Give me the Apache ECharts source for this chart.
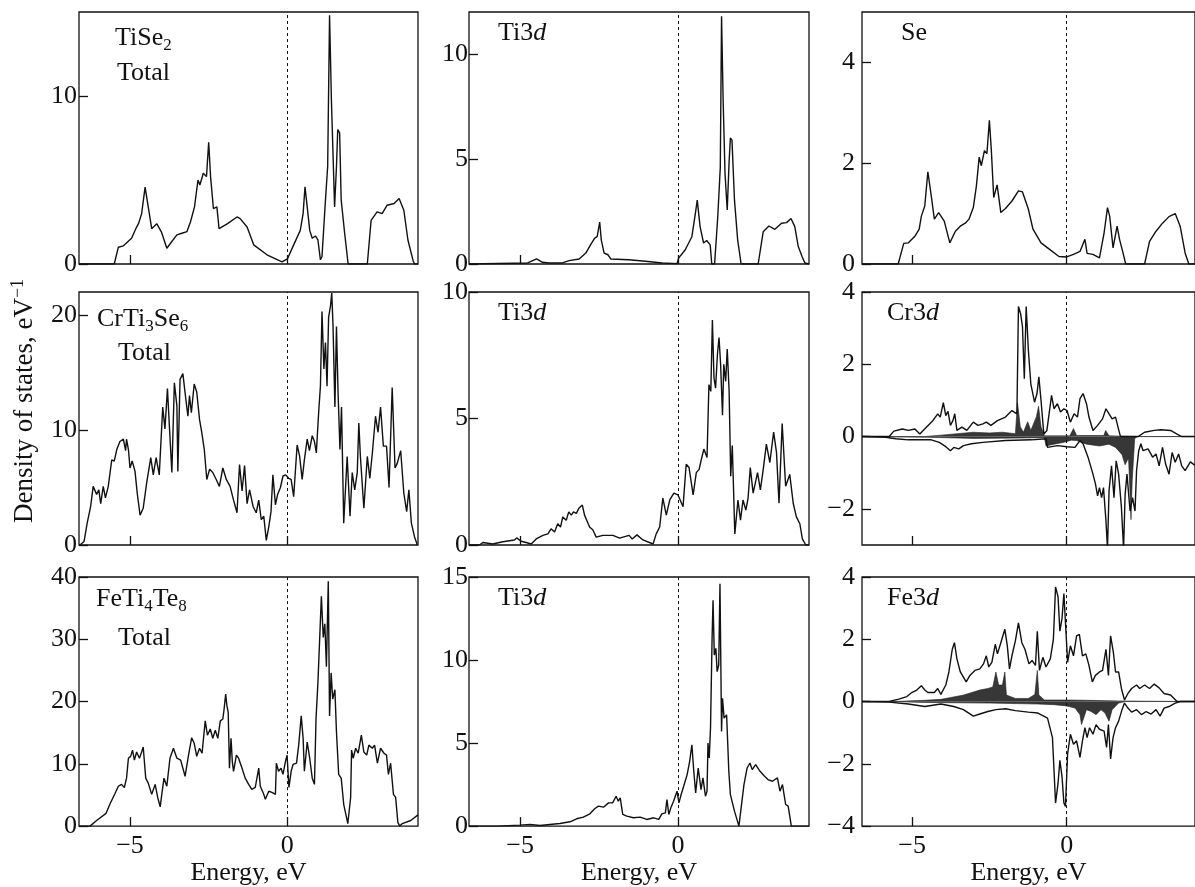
<!DOCTYPE html>
<html>
<head>
<meta charset="utf-8" />
<title>Density of states</title>
<script src="https://cdn.jsdelivr.net/npm/echarts@6/dist/echarts.min.js"></script>
</head>
<body>
<style>
  html, body { margin: 0; background: #fff; }
  #main { width: 1195px; height: 887px; }
</style>
<div id="main"></div>
<script type="text/javascript">
// energy range shared by all panels (eV)
var eMin = -6.62, eMax = 4.15;

// --- TiSe2 ---
var tise2Total = [[-6.62,0],[-5.50,0],[-5.37,1.0],[-5.21,1.08],[-4.95,1.53],[-4.79,2.2],[-4.73,2.4],[-4.63,3.0],[-4.52,4.58],[-4.42,3.4],[-4.31,2.1],[-4.15,2.4],[-4.0,1.9],[-3.83,0.94],[-3.67,1.34],[-3.51,1.73],[-3.35,1.83],[-3.19,1.93],[-3.08,2.5],[-2.95,3.4],[-2.84,5.0],[-2.78,4.7],[-2.67,5.4],[-2.57,5.2],[-2.50,7.25],[-2.44,5.2],[-2.35,3.3],[-2.24,3.4],[-2.17,2.1],[-1.90,2.4],[-1.60,2.8],[-1.50,2.7],[-1.28,2.2],[-1.07,1.14],[-0.65,0.55],[-0.17,0.12],[0.0,0.3],[0.2,1.14],[0.41,2.0],[0.50,3.0],[0.56,4.6],[0.63,3.4],[0.71,2.0],[0.79,1.53],[0.89,1.67],[0.97,1.43],[1.05,0.25],[1.10,0.45],[1.21,3.8],[1.28,5.8],[1.34,14.8],[1.40,9.7],[1.50,3.4],[1.56,5.8],[1.60,8.0],[1.66,7.8],[1.71,3.8],[1.82,1.83],[1.93,0],[2.54,0],[2.66,2.6],[2.85,3.1],[3.01,3.0],[3.17,3.5],[3.39,3.6],[3.55,3.9],[3.70,3.2],[3.83,1.43],[4.0,0.16],[4.04,0],[4.15,0]];
var tise2Ti3d = [[-6.62,0],[-4.76,0.05],[-4.48,0.24],[-4.29,0.08],[-4.08,0.05],[-3.66,0.05],[-3.45,0.16],[-3.13,0.24],[-2.92,0.52],[-2.77,0.91],[-2.64,1.23],[-2.56,1.3],[-2.48,2.0],[-2.43,1.15],[-2.34,0.52],[-2.22,0.44],[-2.13,0.24],[-1.56,0.2],[-1.03,0.13],[-0.5,0.05],[-0.03,0.02],[0.02,0.28],[0.23,0.68],[0.44,1.3],[0.55,2.4],[0.61,3.04],[0.70,1.78],[0.81,1.0],[0.91,1.12],[1.02,0.91],[1.07,0],[1.16,0],[1.26,2.25],[1.34,4.6],[1.38,11.8],[1.43,7.8],[1.49,4.3],[1.56,2.57],[1.62,4.9],[1.66,6.0],[1.71,5.9],[1.79,3.04],[1.89,1.15],[2.0,0],[2.54,0],[2.70,1.54],[2.88,1.81],[3.07,1.65],[3.28,1.94],[3.44,1.97],[3.58,2.17],[3.70,1.78],[3.81,0.83],[3.93,0.36],[4.02,0.05],[4.15,0]];
var tise2Se = [[-6.62,0],[-5.45,0],[-5.27,0.41],[-5.12,0.42],[-4.91,0.55],[-4.77,0.69],[-4.70,0.95],[-4.59,1.15],[-4.49,1.83],[-4.38,1.35],[-4.28,0.89],[-4.14,1.02],[-3.96,0.85],[-3.78,0.42],[-3.60,0.65],[-3.44,0.75],[-3.28,0.81],[-3.16,0.89],[-3.02,1.12],[-2.92,1.55],[-2.83,2.12],[-2.76,1.95],[-2.66,2.25],[-2.58,2.19],[-2.50,2.85],[-2.44,2.29],[-2.36,1.32],[-2.32,1.29],[-2.25,1.57],[-2.13,1.02],[-1.98,1.1],[-1.77,1.25],[-1.56,1.45],[-1.43,1.43],[-1.24,1.09],[-1.09,0.69],[-0.83,0.42],[-0.51,0.27],[-0.25,0.15],[0.0,0.14],[0.22,0.19],[0.43,0.25],[0.59,0.49],[0.66,0.21],[0.85,0.19],[1.06,0.12],[1.21,0.62],[1.32,1.12],[1.39,0.95],[1.50,0.32],[1.63,0.75],[1.71,0.49],[1.81,0.25],[1.91,0],[2.52,0],[2.68,0.45],[2.89,0.65],[3.10,0.81],[3.31,0.94],[3.51,1.0],[3.67,0.75],[3.83,0.22],[3.95,0],[4.15,0]];

// --- CrTi3Se6 ---
var crTotal = [[-6.59,0],[-6.46,0.3],[-6.36,1.9],[-6.25,3.35],[-6.17,5.1],[-6.06,4.4],[-5.99,4.8],[-5.93,3.6],[-5.85,5.1],[-5.78,4.1],[-5.69,5.1],[-5.58,7.4],[-5.50,7.3],[-5.42,8.3],[-5.32,9.0],[-5.21,9.2],[-5.14,8.2],[-5.11,9.2],[-5.05,8.3],[-5.0,6.7],[-4.93,7.3],[-4.84,6.4],[-4.77,4.5],[-4.68,2.6],[-4.58,3.2],[-4.47,5.4],[-4.34,7.6],[-4.26,6.1],[-4.17,7.6],[-4.07,6.1],[-3.96,12.0],[-3.89,10.1],[-3.81,13.6],[-3.75,10.4],[-3.67,6.3],[-3.59,14.1],[-3.51,12.1],[-3.48,6.4],[-3.41,14.4],[-3.32,14.9],[-3.24,13.0],[-3.16,11.2],[-3.11,13.0],[-3.05,11.5],[-2.96,14.0],[-2.88,13.3],[-2.79,10.9],[-2.72,9.8],[-2.64,8.3],[-2.56,5.7],[-2.47,6.6],[-2.37,6.3],[-2.26,5.7],[-2.16,5.1],[-2.05,6.7],[-1.94,5.7],[-1.82,5.1],[-1.71,3.9],[-1.60,2.8],[-1.52,7.0],[-1.44,4.7],[-1.36,6.9],[-1.28,3.6],[-1.20,4.8],[-1.09,3.35],[-0.99,2.8],[-0.91,3.9],[-0.83,2.2],[-0.75,2.5],[-0.67,0.4],[-0.59,1.6],[-0.52,2.9],[-0.46,6.1],[-0.38,3.5],[-0.31,4.4],[-0.22,5.0],[-0.14,6.0],[-0.05,6.1],[0.04,5.8],[0.12,5.7],[0.20,4.2],[0.31,8.7],[0.39,7.7],[0.47,5.7],[0.54,7.4],[0.63,9.2],[0.70,8.2],[0.79,9.5],[0.86,9.0],[0.92,8.0],[1.0,11.8],[1.05,13.8],[1.10,20.3],[1.16,15.3],[1.21,17.6],[1.26,13.8],[1.31,19.8],[1.37,20.8],[1.41,21.9],[1.45,19.1],[1.51,12.0],[1.56,19.0],[1.61,13.3],[1.67,8.3],[1.72,12.0],[1.79,1.9],[1.90,7.7],[1.99,2.5],[2.06,6.3],[2.14,4.8],[2.22,6.3],[2.27,10.6],[2.32,7.7],[2.43,3.2],[2.54,7.7],[2.62,5.8],[2.70,8.0],[2.80,11.2],[2.88,9.8],[2.96,12.0],[3.05,8.6],[3.15,8.6],[3.23,5.0],[3.33,13.7],[3.42,6.7],[3.49,7.1],[3.60,8.2],[3.70,4.5],[3.79,2.9],[3.86,4.8],[3.94,1.9],[4.04,0.7],[4.13,0]];
var crTi3d = [[-6.62,0],[-6.29,0],[-6.18,0.1],[-5.87,0.04],[-5.55,0.13],[-5.18,0.2],[-5.11,0.28],[-4.97,0.15],[-4.81,0.1],[-4.65,0.04],[-4.49,0.24],[-4.28,0.38],[-4.12,0.44],[-4.02,0.64],[-3.91,0.51],[-3.81,0.84],[-3.72,0.71],[-3.65,1.11],[-3.54,0.98],[-3.46,1.31],[-3.38,1.18],[-3.31,1.31],[-3.22,1.25],[-3.14,1.45],[-3.03,1.58],[-2.96,1.18],[-2.80,0.71],[-2.70,0.6],[-2.59,0.31],[-2.38,0.38],[-2.06,0.38],[-1.85,0.27],[-1.55,0.38],[-1.45,0.24],[-1.30,0.4],[-1.11,0.2],[-0.79,0.04],[-0.69,0.44],[-0.58,0.71],[-0.48,1.85],[-0.37,1.18],[-0.26,1.78],[-0.13,2.05],[0.0,1.98],[0.16,1.51],[0.26,3.19],[0.35,3.06],[0.48,1.98],[0.58,2.86],[0.67,2.99],[0.74,3.39],[0.82,3.79],[0.92,3.46],[0.98,6.34],[1.04,6.07],[1.09,8.89],[1.14,6.61],[1.19,6.2],[1.25,7.55],[1.30,8.2],[1.35,7.14],[1.41,5.13],[1.45,7.14],[1.51,6.47],[1.56,7.75],[1.62,6.07],[1.67,2.72],[1.72,3.93],[1.80,0.44],[1.90,1.78],[1.98,0.98],[2.06,1.78],[2.15,1.38],[2.22,1.85],[2.29,3.06],[2.38,2.05],[2.52,2.86],[2.61,2.18],[2.70,2.99],[2.80,3.99],[2.91,3.26],[3.03,4.46],[3.12,3.66],[3.20,1.65],[3.30,4.8],[3.41,2.32],[3.54,2.79],[3.65,1.65],[3.75,1.11],[3.86,0.84],[3.94,0.24],[4.05,0],[4.15,0]];
var crCr3dUp = [[-6.62,0],[-5.74,0],[-5.59,0.15],[-5.32,0.21],[-5.12,0.17],[-4.91,0.21],[-4.75,0.07],[-4.54,0.26],[-4.33,0.44],[-4.17,0.63],[-4.09,0.54],[-3.99,0.94],[-3.91,0.58],[-3.84,0.7],[-3.76,0.31],[-3.68,0.44],[-3.62,0.63],[-3.55,0.17],[-3.39,0.26],[-3.23,0.17],[-3.02,0.4],[-2.87,0.31],[-2.71,0.35],[-2.60,0.4],[-2.45,0.31],[-2.24,0.44],[-1.98,0.54],[-1.77,0.72],[-1.61,0.63],[-1.56,3.6],[-1.49,3.4],[-1.43,3.04],[-1.37,1.6],[-1.31,3.6],[-1.24,2.4],[-1.16,1.46],[-1.04,0.95],[-0.96,1.19],[-0.90,1.65],[-0.83,1.0],[-0.74,0.07],[-0.64,0.17],[-0.49,1.14],[-0.41,0.77],[-0.30,0.91],[-0.20,0.68],[-0.09,0.77],[0.01,0.72],[0.12,0.4],[0.24,0.63],[0.35,0.54],[0.43,1.05],[0.53,1.19],[0.64,0.91],[0.72,0.54],[0.85,0.17],[1.0,0.31],[1.16,0.49],[1.27,0.77],[1.37,0.63],[1.47,0.49],[1.58,0.54],[1.66,0.26],[1.74,0],[2.31,0],[2.52,0.12],[2.83,0.17],[3.04,0.19],[3.36,0.17],[3.57,0.07],[3.72,0],[4.15,0]];
var crCr3dDn = [[-6.62,0],[-5.85,-0.02],[-5.53,-0.06],[-5.12,-0.09],[-4.70,-0.09],[-4.38,-0.09],[-4.12,-0.16],[-3.91,-0.28],[-3.76,-0.39],[-3.65,-0.3],[-3.49,-0.34],[-3.34,-0.25],[-3.08,-0.2],[-2.71,-0.16],[-1.98,-0.11],[-1.14,-0.09],[-0.67,-0.06],[-0.62,-0.3],[-0.30,-0.25],[0.01,-0.28],[0.27,-0.3],[0.43,-0.11],[0.53,-0.2],[0.69,-0.57],[0.85,-1.04],[0.93,-1.31],[1.0,-1.64],[1.06,-1.41],[1.13,-1.69],[1.19,-1.41],[1.27,-2.33],[1.32,-3.1],[1.37,-1.5],[1.45,-0.81],[1.53,-1.69],[1.60,-0.67],[1.68,-1.04],[1.77,-1.96],[1.84,-3.1],[1.89,-1.6],[1.95,-1.04],[2.05,-2.06],[2.13,-1.69],[2.21,-2.06],[2.26,-0.94],[2.33,-0.39],[2.40,-0.2],[2.47,-0.39],[2.63,-0.34],[2.78,-0.57],[2.89,-0.48],[2.99,-0.81],[3.10,-0.3],[3.20,-0.76],[3.31,-1.04],[3.41,-0.44],[3.51,-0.71],[3.62,-0.48],[3.72,-0.81],[3.83,-0.94],[4.0,-0.7],[4.15,-0.8]];
var crCr3dShUp = [[-6.62,0],[-4.6,0],[-4.06,0.04],[-3.54,0.08],[-3.02,0.12],[-2.5,0.1],[-2.08,0.12],[-1.66,0.08],[-1.59,0.93],[-1.5,0.27],[-1.4,0.12],[-1.26,0.41],[-1.16,0.17],[-0.98,0.55],[-0.91,0.84],[-0.83,0.27],[-0.72,0.02],[0.1,0.02],[0.22,0.22],[0.32,0.03],[1.2,0.03],[1.26,0.17],[1.37,0.02],[2.2,0],[4.15,0]];
var crCr3dShDn = [[-6.62,0],[-4.5,-0.02],[-3.0,-0.05],[-1.5,-0.04],[-0.72,-0.03],[-0.67,-0.26],[-0.41,-0.21],[-0.09,-0.16],[0.15,-0.1],[0.32,-0.11],[0.64,-0.21],[1.06,-0.26],[1.37,-0.21],[1.58,-0.3],[1.79,-0.5],[1.89,-0.78],[2.0,-0.59],[2.05,-1.6],[2.08,-2.3],[2.12,-1.2],[2.15,-1.16],[2.2,-0.05],[2.3,0],[4.15,0]];

// --- FeTi4Te8 ---
var feTotal = [[-6.62,0],[-6.27,0],[-6.06,0.9],[-5.76,2.05],[-5.64,3.5],[-5.48,5.2],[-5.37,6.4],[-5.27,6.7],[-5.18,6.2],[-5.11,7.7],[-5.05,10.9],[-4.98,11.2],[-4.92,12.2],[-4.86,10.6],[-4.79,11.9],[-4.70,10.9],[-4.63,11.9],[-4.58,12.7],[-4.50,7.7],[-4.42,6.9],[-4.31,5.1],[-4.20,6.7],[-4.12,4.6],[-4.04,3.1],[-3.99,5.1],[-3.92,7.7],[-3.83,6.4],[-3.73,10.9],[-3.62,12.5],[-3.51,10.9],[-3.39,10.6],[-3.25,8.0],[-3.14,11.4],[-3.04,14.2],[-2.96,13.3],[-2.88,11.2],[-2.79,12.5],[-2.71,11.7],[-2.61,16.9],[-2.54,14.6],[-2.45,15.6],[-2.37,14.1],[-2.29,15.4],[-2.21,14.1],[-2.13,16.9],[-2.05,17.2],[-2.01,18.8],[-1.96,21.2],[-1.92,19.3],[-1.88,18.3],[-1.84,9.3],[-1.79,14.1],[-1.75,10.4],[-1.71,8.8],[-1.62,11.4],[-1.55,10.9],[-1.44,9.3],[-1.34,7.7],[-1.23,6.7],[-1.13,5.9],[-1.02,6.2],[-0.91,9.3],[-0.86,6.4],[-0.75,5.1],[-0.70,4.3],[-0.59,5.6],[-0.49,5.4],[-0.38,5.1],[-0.35,10.1],[-0.28,8.8],[-0.20,9.3],[-0.14,8.3],[-0.06,10.4],[-0.01,11.4],[0.05,6.2],[0.12,8.8],[0.18,9.9],[0.29,10.1],[0.36,13.0],[0.44,17.7],[0.50,14.1],[0.54,8.8],[0.63,13.5],[0.71,10.9],[0.79,7.7],[0.86,6.7],[0.91,17.2],[0.97,23.0],[1.02,29.3],[1.08,36.9],[1.14,30.3],[1.19,32.5],[1.24,25.6],[1.30,39.3],[1.34,17.7],[1.39,24.6],[1.44,20.4],[1.51,21.9],[1.56,15.1],[1.63,8.3],[1.71,7.7],[1.79,3.5],[1.92,0.4],[2.01,4.6],[2.04,12.2],[2.09,10.9],[2.17,12.5],[2.25,11.7],[2.35,14.6],[2.43,11.9],[2.52,11.4],[2.59,13.0],[2.70,12.5],[2.77,13.0],[2.86,10.1],[2.96,12.5],[3.07,11.7],[3.15,11.4],[3.21,8.3],[3.28,10.1],[3.37,5.1],[3.44,4.6],[3.51,0.6],[3.57,0],[3.65,0.4],[3.92,0.9],[4.15,1.8]];
var feTi3d = [[-6.62,0],[-5.70,0],[-5.01,0.06],[-4.69,0.1],[-4.37,0.04],[-4.06,0.1],[-3.74,0.16],[-3.42,0.26],[-3.21,0.44],[-3.0,0.54],[-2.79,0.74],[-2.63,1.06],[-2.52,1.2],[-2.36,1.14],[-2.20,1.4],[-2.07,1.4],[-1.96,1.8],[-1.89,1.5],[-1.83,1.7],[-1.75,0.7],[-1.62,0.6],[-1.41,0.5],[-1.20,0.54],[-0.99,0.4],[-0.77,0.5],[-0.61,0.4],[-0.51,0.74],[-0.40,0.8],[-0.35,1.6],[-0.29,0.7],[-0.22,1.14],[-0.14,1.5],[-0.03,2.1],[0.03,1.4],[0.10,1.9],[0.18,2.4],[0.29,3.1],[0.37,3.9],[0.44,4.9],[0.50,3.3],[0.56,2.0],[0.64,3.5],[0.73,2.2],[0.79,2.9],[0.87,1.8],[0.92,2.1],[0.95,5.0],[0.99,4.1],[1.03,5.9],[1.08,11.3],[1.11,13.6],[1.15,10.3],[1.20,10.7],[1.24,9.3],[1.29,9.7],[1.33,14.6],[1.38,5.7],[1.41,7.7],[1.46,6.5],[1.54,6.7],[1.61,3.3],[1.66,1.9],[1.72,2.0],[1.79,0.9],[1.93,0],[1.98,0],[2.09,2.5],[2.19,3.5],[2.28,3.8],[2.35,3.4],[2.46,3.7],[2.60,3.3],[2.72,3.05],[2.85,2.8],[2.99,2.7],[3.15,2.9],[3.23,2.1],[3.31,2.5],[3.41,1.3],[3.49,1.2],[3.59,0],[4.15,0]];
var feFe3dUp = [[-6.62,0],[-5.74,0],[-5.43,0.08],[-5.17,0.16],[-5.01,0.29],[-4.85,0.37],[-4.70,0.51],[-4.59,0.37],[-4.49,0.29],[-4.28,0.29],[-4.17,0.42],[-4.07,0.23],[-3.91,0.53],[-3.81,0.95],[-3.70,1.68],[-3.63,1.89],[-3.55,1.37],[-3.44,0.95],[-3.25,0.63],[-3.13,0.84],[-2.97,1.0],[-2.81,1.05],[-2.69,1.21],[-2.60,1.47],[-2.52,1.11],[-2.42,1.26],[-2.31,1.84],[-2.24,1.53],[-2.13,1.89],[-2.00,2.32],[-1.92,1.79],[-1.85,1.05],[-1.77,1.47],[-1.66,1.95],[-1.56,2.53],[-1.45,1.89],[-1.35,1.68],[-1.22,1.21],[-1.12,1.32],[-1.01,1.16],[-0.95,2.26],[-0.88,1.0],[-0.77,1.42],[-0.67,1.11],[-0.53,1.37],[-0.43,2.0],[-0.36,3.68],[-0.28,3.37],[-0.22,2.26],[-0.15,2.68],[-0.09,3.47],[-0.03,3.53],[0.03,1.26],[0.12,1.79],[0.22,1.47],[0.32,2.11],[0.41,2.16],[0.51,1.47],[0.62,1.53],[0.72,1.16],[0.83,0.63],[0.93,0.84],[1.06,0.95],[1.16,1.0],[1.27,1.68],[1.35,0.84],[1.42,2.11],[1.51,1.58],[1.58,0.95],[1.68,0.95],[1.77,0.42],[1.87,0.05],[1.98,0.26],[2.10,0.42],[2.26,0.53],[2.36,0.42],[2.52,0.53],[2.68,0.42],[2.83,0.56],[2.99,0.44],[3.15,0.26],[3.36,0.21],[3.57,0],[4.15,0]];
var feFe3dDn = [[-6.62,0],[-5.74,-0.02],[-5.12,-0.08],[-4.59,-0.16],[-4.07,-0.08],[-3.65,-0.16],[-3.34,-0.26],[-3.02,-0.47],[-2.81,-0.4],[-2.55,-0.32],[-2.29,-0.26],[-1.98,-0.23],[-1.66,-0.29],[-1.24,-0.34],[-0.93,-0.37],[-0.62,-0.53],[-0.46,-1.16],[-0.41,-2.21],[-0.36,-3.26],[-0.28,-2.63],[-0.22,-1.89],[-0.15,-2.42],[-0.09,-3.26],[-0.04,-3.37],[0.03,-1.68],[0.12,-1.05],[0.22,-1.37],[0.32,-1.26],[0.43,-1.79],[0.51,-1.26],[0.59,-0.84],[0.66,-1.16],[0.74,-0.84],[0.85,-1.05],[0.95,-0.74],[1.06,-0.89],[1.21,-0.95],[1.29,-1.47],[1.35,-0.74],[1.42,-1.84],[1.50,-1.16],[1.58,-0.84],[1.68,-0.63],[1.79,-0.26],[1.87,-0.05],[1.98,-0.21],[2.10,-0.34],[2.26,-0.26],[2.42,-0.42],[2.57,-0.32],[2.73,-0.4],[2.89,-0.26],[3.02,-0.47],[3.15,-0.21],[3.31,-0.16],[3.51,-0.05],[3.67,0],[4.15,0]];
var feFe3dShUp = [[-6.62,0],[-5.63,0],[-4.59,0.04],[-4.06,0.07],[-3.75,0.13],[-3.33,0.21],[-3.07,0.29],[-2.81,0.37],[-2.55,0.42],[-2.39,0.47],[-2.29,0.95],[-2.20,0.53],[-2.08,0.53],[-2.0,0.95],[-1.95,0.21],[-1.66,0.1],[-1.24,0.1],[-1.03,0.23],[-0.95,1.0],[-0.90,0.21],[-0.72,0.05],[0.0,0.05],[0.64,0.04],[1.68,0.02],[2.73,0.01],[4.15,0]];
var feFe3dShDn = [[-6.62,0],[-5.63,0],[-4.59,-0.03],[-2.50,-0.05],[-0.93,-0.08],[-0.41,-0.1],[0.0,-0.14],[0.27,-0.21],[0.43,-0.42],[0.48,-0.74],[0.55,-0.53],[0.64,-0.26],[0.79,-0.32],[0.95,-0.42],[1.11,-0.26],[1.24,-0.37],[1.37,-0.63],[1.47,-0.26],[1.68,-0.05],[1.89,0],[4.15,0]];

// tick values per panel
var yTicks = [[0, 10], [0, 5, 10], [0, 2, 4],
              [0, 10, 20], [0, 5, 10], [-2, 0, 2, 4],
              [0, 10, 20, 30, 40], [0, 5, 10, 15], [-4, -2, 0, 2, 4]];
var yRanges = [[0, 15], [0, 12], [0, 5],
               [0, 22], [0, 10], [-3, 4],
               [0, 40], [0, 15], [-4, 4]];
var xTicks = [-5, 0];

// layout (pixels)
var cols = [{ left: 79, width: 339, margin: 2 }, { left: 469, width: 340, margin: 1 }, { left: 862, width: 344, margin: 7 }];
var rows = [{ top: 12, height: 252 }, { top: 292, height: 253 }, { top: 577, height: 252 }];

var FONT = 'Liberation Serif';
var INK = '#111';

var grids = [], xAxes = [], yAxes = [], series = [];
for (var r = 0; r < 3; r++) {
  for (var c = 0; c < 3; c++) {
    var i = r * 3 + c;
    grids.push({
      left: cols[c].left, width: cols[c].width, top: rows[r].top, height: rows[r].height,
      show: true, borderColor: INK, borderWidth: 1.3, backgroundColor: 'transparent'
    });
    xAxes.push({
      type: 'value', gridIndex: i, min: eMin, max: eMax, position: 'bottom',
      name: r === 2 ? 'Energy, eV' : '',
      nameLocation: 'middle', nameGap: 32,
      nameTextStyle: { fontFamily: FONT, fontSize: 26, color: INK },
      axisLine: { show: false, onZero: false },
      splitLine: { show: false },
      axisTick: { show: true, inside: true, length: 9, customValues: xTicks, lineStyle: { color: INK, width: 1.3 } },
      axisLabel: {
        show: r === 2, customValues: xTicks, margin: 7,
        fontFamily: FONT, fontSize: 26, color: INK,
        formatter: function (v) { return String(v).replace('-', '\u2212'); }
      }
    });
    yAxes.push({
      type: 'value', gridIndex: i, min: yRanges[i][0], max: yRanges[i][1], position: 'left',
      axisLine: { show: false, onZero: false },
      splitLine: { show: false },
      axisTick: { show: true, inside: true, length: 9, customValues: yTicks[i], lineStyle: { color: INK, width: 1.3 } },
      axisLabel: {
        customValues: yTicks[i], margin: cols[c].margin,
        fontFamily: FONT, fontSize: 26, color: INK,
        formatter: function (v) { return String(v).replace('-', '\u2212'); }
      }
    });
  }
}

function curve(idx, data, extra) {
  return Object.assign({
    type: 'line', xAxisIndex: idx, yAxisIndex: idx, data: data,
    symbol: 'none', silent: true, animation: false,
    lineStyle: { color: INK, width: 1.4 }
  }, extra || {});
}
function shaded(idx, data) {
  return curve(idx, data, {
    lineStyle: { color: '#222', width: 0.6 },
    areaStyle: { color: '#262626', opacity: 0.92 }
  });
}
var fermi = {
  silent: true, symbol: ['none', 'none'], label: { show: false },
  lineStyle: { color: INK, type: [3, 3], width: 1 },
  data: [{ xAxis: 0 }]
};

var panelCurves = [[tise2Total], [tise2Ti3d], [tise2Se],
                   [crTotal], [crTi3d], null,
                   [feTotal], [feTi3d], null];
panelCurves.forEach(function (list, i) {
  if (list) {
    list.forEach(function (d, k) {
      series.push(curve(i, d, k === 0 ? { markLine: fermi } : {}));
    });
  }
});
// spin-resolved panels
series.push(shaded(5, crCr3dShUp));
series.push(shaded(5, crCr3dShDn));
series.push(curve(5, crCr3dUp, { markLine: fermi }));
series.push(curve(5, crCr3dDn));
series.push(shaded(8, feFe3dShUp));
series.push(shaded(8, feFe3dShDn));
series.push(curve(8, feFe3dUp, { markLine: fermi }));
series.push(curve(8, feFe3dDn));

// panel captions with sub/superscripts, laid out with measured widths
var measure = document.createElement('canvas').getContext('2d');
function caption(x, base, parts, size) {
  var out = [], cx = x, big = size || 26;
  parts.forEach(function (p) {
    var kind = p[1] || 'n';
    var fs = (kind === 'sub' || kind === 'sup') ? Math.round(big * 0.65) : big;
    var style = kind === 'it' ? 'italic' : 'normal';
    var b = kind === 'sub' ? base + 4 : (kind === 'sup' ? base - 10 : base);
    measure.font = style + ' ' + fs + 'px "' + FONT + '"';
    out.push({
      type: 'text', x: cx, y: b - 0.84 * fs, silent: true,
      style: { text: p[0], fontFamily: FONT, fontSize: fs, fontStyle: style, fill: INK, align: 'left', verticalAlign: 'top' }
    });
    cx += measure.measureText(p[0]).width;
  });
  return out;
}

var labels = [].concat(
  caption(115, 47, [['TiSe'], ['2', 'sub']]),
  caption(117, 82, [['Total']]),
  caption(498, 42, [['Ti3'], ['d', 'it']]),
  caption(901, 42, [['Se']]),
  caption(97, 328, [['CrTi'], ['3', 'sub'], ['Se'], ['6', 'sub']]),
  caption(118, 362, [['Total']]),
  caption(498, 322, [['Ti3'], ['d', 'it']]),
  caption(887, 322, [['Cr3'], ['d', 'it']]),
  caption(96, 608, [['FeTi'], ['4', 'sub'], ['Te'], ['8', 'sub']]),
  caption(118, 647, [['Total']]),
  caption(498, 607, [['Ti3'], ['d', 'it']]),
  caption(887, 607, [['Fe3'], ['d', 'it']])
);
labels.push({
  type: 'group', x: 34, y: 523, rotation: Math.PI / 2, silent: true,
  children: caption(0, 0, [['Density of states, eV'], ['\u22121', 'sup']], 27)
});

var myChart = echarts.init(document.getElementById('main'));
var option = {
  animation: false,
  backgroundColor: '#fff',
  grid: grids,
  xAxis: xAxes,
  yAxis: yAxes,
  series: series,
  graphic: labels
};
myChart.setOption(option);
</script>
</body>
</html>
